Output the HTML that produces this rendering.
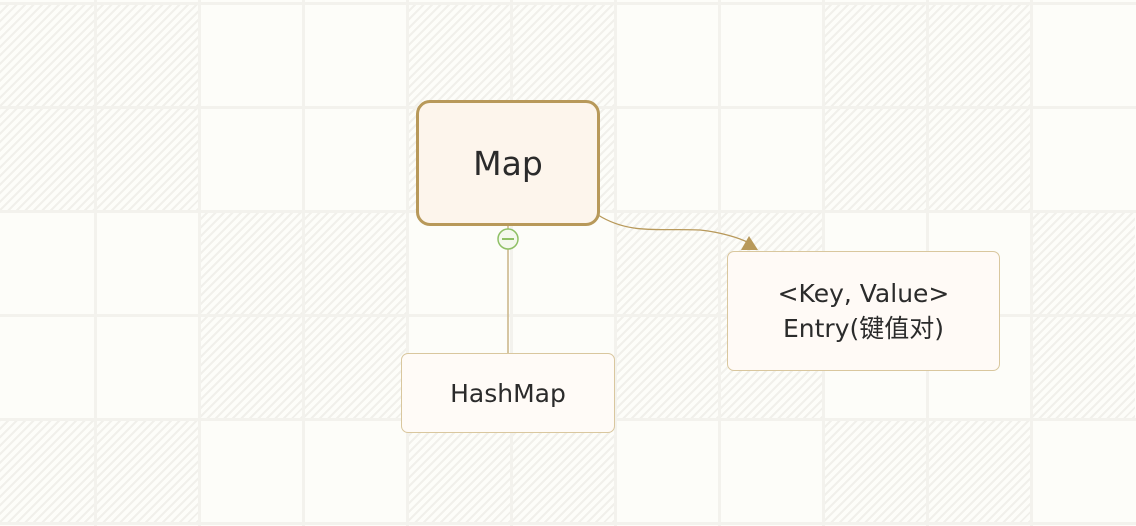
<!DOCTYPE html>
<html><head><meta charset="utf-8"><style>
html,body{margin:0;padding:0;width:1136px;height:526px;overflow:hidden}
body{position:relative;background:#fdfdf9;font-family:"DejaVu Sans","Liberation Sans","Noto Sans CJK SC",sans-serif;color:#2b2b2b}
#g{position:absolute;left:0;top:0;width:1136px;height:526px;overflow:hidden}
.c{position:absolute;width:104px;height:104px;background:repeating-linear-gradient(135deg,#f1f0eb 0 2px,transparent 2px 6px)}
.vl{position:absolute;top:0;width:3px;height:526px;background:#f3f2ed}
.hl{position:absolute;left:0;height:3px;width:1136px;background:#f3f2ed}
.box{position:absolute;box-sizing:border-box;display:flex;align-items:center;justify-content:center;text-align:center}
</style></head><body>
<div id="g"></div>
<script>
var g=document.getElementById('g'),h='';
for(var r=0;r<5;r++)for(var k=0;k<11;k++){
 var rb=Math.floor(r/2)%2, cb=Math.floor(k/2)%2;
 var L=-9+104*k, T=3+104*r, W=104;
 if(L<0){W+=L;L=0;}
 if(L+W>1136)W=1136-L;
 if(rb==cb) h+='<div class="c" style="left:'+L+'px;top:'+T+'px;width:'+W+'px"></div>';
}
for(var k=1;k<11;k++)h+='<div class="vl" style="left:'+(-10+104*k)+'px"></div>';
for(var r=0;r<6;r++)h+='<div class="hl" style="top:'+(2+104*r)+'px"></div>';
g.innerHTML=h;
</script>
<svg style="position:absolute;left:0;top:0" width="1136" height="526">
<line x1="508" y1="225" x2="508" y2="353" stroke="#c9b486" stroke-width="1.5"/>
<path d="M598 215 C630 235,660 228,700 230 C720 232,740 238,749 243" fill="none" stroke="#b8995a" stroke-width="1.3"/>
<polygon points="749,236 758,250 741,250" fill="#b8995a"/>
<circle cx="508" cy="239" r="10" fill="#f4f8ee" stroke="#8fc066" stroke-width="1.5"/>
<line x1="502" y1="239" x2="514" y2="239" stroke="#8fc066" stroke-width="2"/>
</svg>
<div class="box" style="left:416px;top:100px;width:184px;height:126px;border:3px solid #b8995a;border-radius:14px;background:#fdf5ec;font-size:33px">Map</div>
<div class="box" style="left:401px;top:353px;width:214px;height:80px;border:1px solid #d9c79e;border-radius:7px;background:#fffbf7;font-size:25px">HashMap</div>
<div class="box" style="left:727px;top:251px;width:273px;height:120px;border:1px solid #d9c79e;border-radius:7px;background:#fffaf6;font-size:25px;line-height:35px">&lt;Key, Value&gt;<br>Entry(键值对)</div>
</body></html>
